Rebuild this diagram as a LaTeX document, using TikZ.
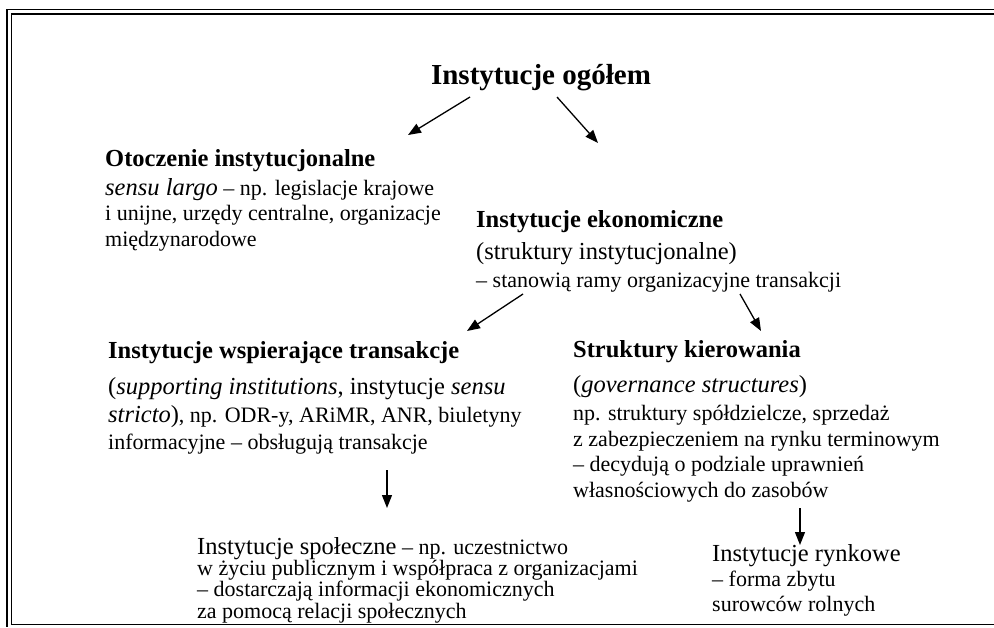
\documentclass[tikz,border=0pt]{standalone}
\usepackage{fontspec}
\setmainfont{Liberation Serif}
\usetikzlibrary{arrows.meta}
\tikzset{
  tekst/.style={anchor=base west, align=left, inner sep=0pt,
    font=\fontsize{22}{25.5}\selectfont},
  strzalka/.style={-{Triangle[length=13pt,width=10pt]}, line width=1.3pt},
  ramka/.style={line width=1.8pt}
}
\newcommand{\nagl}[1]{{\fontsize{24.5}{28}\selectfont\bfseries #1}}
\newcommand{\duzy}[1]{{\fontsize{24.5}{28}\selectfont #1}}

\begin{document}
\begin{tikzpicture}[x=1pt,y=-1pt]
\useasboundingbox (0,0) rectangle (994,627);
% ramka
\draw[ramka] (994,9.5) -- (7,9.5) -- (7,627);
\draw[ramka] (994,14) -- (11.5,14) -- (11.5,624.5);
\draw[line width=1.2pt] (11.5,624.5) -- (994,624.5);

% tekst (punkt = linia bazowa ostatniego wiersza)
\node[tekst, anchor=base] (ogolem) at (541,84)
  {{\fontsize{29}{33}\selectfont\bfseries Instytucje ogółem}};

\node[tekst] (otoczenie) at (105,246) {\nagl{Otoczenie instytucjonalne}\\[3.5pt]
  \duzy{\textit{sensu largo}} – np. legislacje krajowe\\
  i unijne, urzędy centralne, organizacje\\
  międzynarodowe};

\node[tekst] (ekonom) at (476,287) {\nagl{Instytucje ekonomiczne}\\[6.5pt]
  \duzy{(struktury instytucjonalne)}\\[2.5pt]
  – stanowią ramy organizacyjne transakcji};

\node[tekst] (wspier) at (108,449) {\nagl{Instytucje wspierające transakcje}\\[10pt]
  \duzy{(\textit{supporting institutions}, instytucje \textit{sensu}}\\[2.5pt]
  \duzy{\textit{stricto})}, np. ODR-y, ARiMR, ANR, biuletyny\\[1.5pt]
  informacyjne – obsługują transakcje};

\node[tekst] (kierow) at (573,497) {\nagl{Struktury kierowania}\\[9.5pt]
  \duzy{(\textit{governance structures})}\\[2.5pt]
  np. struktury spółdzielcze, sprzedaż\\
  z zabezpieczeniem na rynku terminowym\\
  – decydują o podziale uprawnień\\
  własnościowych do zasobów};

\node[tekst, font=\fontsize{22}{19.5}\selectfont] (spoleczne) at (197,618)
  {\duzy{Instytucje społeczne} – np. uczestnictwo\\
  w życiu publicznym i współpraca z organizacjami\\
  – dostarczają informacji ekonomicznych\\
  za pomocą relacji społecznych};

\node[tekst, font=\fontsize{22}{25}\selectfont] (rynkowe) at (712,611)
  {\duzy{Instytucje rynkowe}\\
  – forma zbytu\\
  surowców rolnych};

% strzalki
\coordinate (o1) at (470,97);  \coordinate (o2) at (408,135);
\coordinate (o3) at (557,97);  \coordinate (o4) at (598,143);
\coordinate (e1) at (523,294); \coordinate (e2) at (467,331);
\coordinate (e3) at (740,294); \coordinate (e4) at (761,331);
\coordinate (w1) at (387,470); \coordinate (w2) at (387,508);
\coordinate (k1) at (800,508); \coordinate (k2) at (800,545);
\draw[strzalka] (o1) -- (o2);
\draw[strzalka] (o3) -- (o4);
\draw[strzalka] (e1) -- (e2);
\draw[strzalka] (e3) -- (e4);
\draw[strzalka] (w1) -- (w2);
\draw[strzalka] (k1) -- (k2);
\end{tikzpicture}
\end{document}
